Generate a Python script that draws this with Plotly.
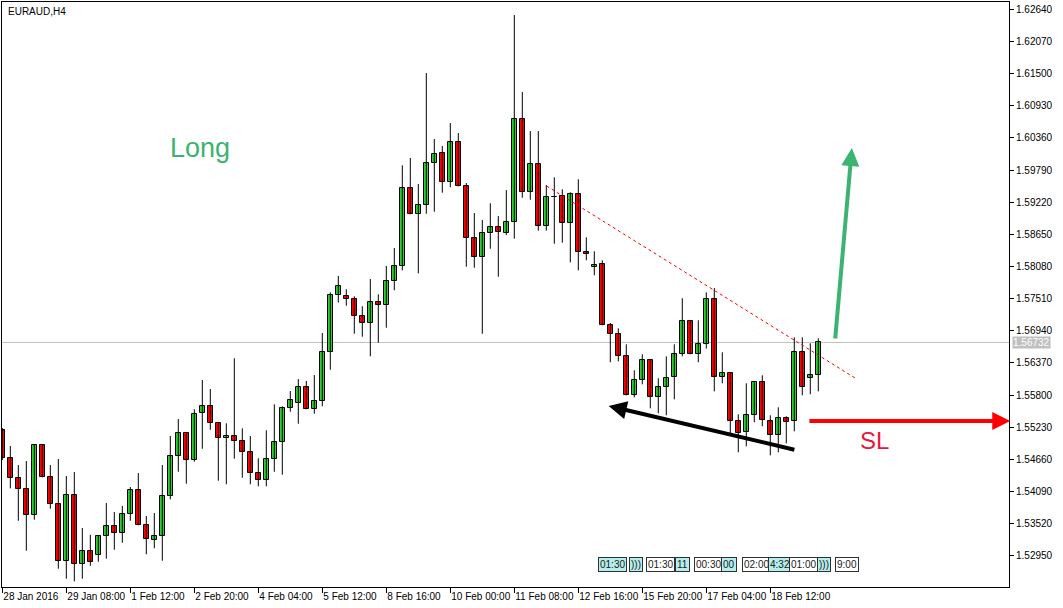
import plotly.graph_objects as go

SYMBOL = "EURAUD,H4"

OPEN = [1.55174, 1.54677, 1.54322, 1.54127, 1.53666, 1.54908, 1.54340, 1.53861, 1.52850, 1.54021,
        1.52797, 1.53028, 1.52957, 1.53294, 1.53471, 1.53347, 1.53684, 1.54110, 1.53489, 1.53223,
        1.53294, 1.54003, 1.54713, 1.55120, 1.54642, 1.55475, 1.55599, 1.55298, 1.55032, 1.55067,
        1.54979, 1.54784, 1.54411, 1.54287, 1.54659, 1.54961, 1.55564, 1.55653, 1.55936, 1.55546,
        1.55688, 1.56557, 1.57568, 1.57550, 1.57497, 1.57195, 1.57071, 1.57444, 1.57391, 1.57816,
        1.58082, 1.59466, 1.59004, 1.59164, 1.59909, 1.60086, 1.59572, 1.60281, 1.59501, 1.58579,
        1.58242, 1.58667, 1.58774, 1.58667, 1.58863, 1.60689, 1.59405, 1.59891, 1.58792, 1.59315,
        1.59324, 1.58845, 1.59359, 1.58331, 1.58064, 1.58118, 1.57036, 1.56876, 1.56486, 1.55794,
        1.56060, 1.56415, 1.55759, 1.55936, 1.56114, 1.56522, 1.57107, 1.56522, 1.56699, 1.57497,
        1.56114, 1.56185, 1.55333, 1.55138, 1.55440, 1.56025, 1.55333, 1.55085, 1.55386, 1.55333,
        1.56557, 1.56096, 1.56149]

HIGH = [1.55214, 1.54895, 1.54558, 1.54629, 1.54931, 1.54931, 1.54558, 1.54665, 1.54363, 1.54434,
        1.53441, 1.53322, 1.53304, 1.53884, 1.53725, 1.53831, 1.54168, 1.54416, 1.53654, 1.53707,
        1.54558, 1.55073, 1.55374, 1.55120, 1.55546, 1.56066, 1.55906, 1.55298, 1.55298, 1.56451,
        1.55209, 1.55073, 1.54677, 1.55174, 1.55635, 1.55599, 1.55871, 1.56083, 1.56048, 1.56154,
        1.56899, 1.57621, 1.57910, 1.57674, 1.57550, 1.57373, 1.57857, 1.57586, 1.58088, 1.58407,
        1.59873, 1.60003, 1.59542, 1.61510, 1.60340, 1.60216, 1.60624, 1.60446, 1.59560, 1.59027,
        1.58903, 1.59200, 1.58974, 1.59435, 1.62539, 1.61173, 1.60482, 1.60482, 1.59524, 1.59661,
        1.59448, 1.59395, 1.59625, 1.58597, 1.58348, 1.58189, 1.57077, 1.56983, 1.56699, 1.56238,
        1.56522, 1.56433, 1.56096, 1.56486, 1.56699, 1.57515, 1.57125, 1.57125, 1.57621, 1.57697,
        1.56557, 1.56202, 1.55457, 1.56007, 1.56025, 1.56149, 1.55440, 1.55582, 1.55422, 1.56823,
        1.56823, 1.56717, 1.56805]

LOW = [1.54647, 1.54145, 1.53570, 1.53038, 1.53588, 1.54340, 1.53783, 1.52719, 1.52542, 1.52496,
       1.52542, 1.52772, 1.52843, 1.52897, 1.53056, 1.53180, 1.53570, 1.53489, 1.52975, 1.53081,
       1.52861, 1.53950, 1.54439, 1.54227, 1.54617, 1.54847, 1.55184, 1.54280, 1.54216, 1.54670,
       1.54333, 1.54216, 1.54181, 1.54181, 1.54439, 1.54386, 1.55504, 1.55291, 1.55546, 1.55468,
       1.55599, 1.56248, 1.57440, 1.57383, 1.56887, 1.56834, 1.56486, 1.56727, 1.56993, 1.57657,
       1.58011, 1.59004, 1.57958, 1.59015, 1.59051, 1.59388, 1.59483, 1.59501, 1.58075, 1.58057,
       1.56887, 1.58394, 1.57898, 1.58637, 1.58572, 1.59299, 1.59263, 1.58714, 1.58714, 1.58483,
       1.58501, 1.58153, 1.58011, 1.58189, 1.57923, 1.57036, 1.56380, 1.56397, 1.55794, 1.55759,
       1.55989, 1.55564, 1.55475, 1.55440, 1.55723, 1.56486, 1.56522, 1.56380, 1.56624, 1.55865,
       1.56007, 1.55120, 1.54784, 1.54890, 1.55316, 1.55245, 1.54730, 1.54784, 1.54943, 1.55156,
       1.55794, 1.55812, 1.55865]

CLOSE = [1.54677, 1.54322, 1.54127, 1.53666, 1.54908, 1.54340, 1.53861, 1.52850, 1.54021, 1.52797,
         1.53028, 1.52833, 1.53294, 1.53471, 1.53347, 1.53684, 1.54110, 1.53489, 1.53241, 1.53294,
         1.54003, 1.54713, 1.55120, 1.54642, 1.55457, 1.55599, 1.55298, 1.55032, 1.55067, 1.54979,
         1.54784, 1.54411, 1.54287, 1.54659, 1.54961, 1.55564, 1.55706, 1.55936, 1.55546, 1.55688,
         1.56557, 1.57568, 1.57728, 1.57497, 1.57195, 1.57071, 1.57444, 1.57391, 1.57816, 1.58082,
         1.59466, 1.59004, 1.59164, 1.59909, 1.60069, 1.59572, 1.60281, 1.59501, 1.58579, 1.58242,
         1.58667, 1.58774, 1.58685, 1.58863, 1.60689, 1.59405, 1.59891, 1.58792, 1.59306, 1.59315,
         1.58845, 1.59359, 1.58331, 1.58295, 1.58100, 1.57036, 1.56876, 1.56486, 1.55794, 1.56060,
         1.56415, 1.55759, 1.55936, 1.56096, 1.56522, 1.57107, 1.56522, 1.56699, 1.57497, 1.56114,
         1.56185, 1.55333, 1.55120, 1.55440, 1.56025, 1.55351, 1.55085, 1.55386, 1.55316, 1.56557,
         1.55936, 1.56149, 1.56732]

TICK_BARS = [0, 8, 16, 24, 32, 40, 48, 56, 64, 72, 80, 88, 96]
TICK_LABELS = ["28 Jan 2016", "29 Jan 08:00", "1 Feb 12:00", "2 Feb 20:00", "4 Feb 04:00",
               "5 Feb 12:00", "8 Feb 16:00", "10 Feb 00:00", "11 Feb 08:00", "12 Feb 16:00",
               "15 Feb 20:00", "17 Feb 04:00", "18 Feb 12:00"]
PRICE_TICKS = [1.52950, 1.53520, 1.54090, 1.54660, 1.55230, 1.55800, 1.56370, 1.56940,
               1.57510, 1.58080, 1.58650, 1.59220, 1.59790, 1.60360, 1.60930, 1.61500,
               1.62070, 1.62640]

# chart drawings (bar index, price)
TREND_START = (68.05, 1.59506)
TREND_END = (106.6, 1.56101)
LONG_ARROW = ((104.1, 1.56775), (106.2, 1.60180))
SUPPORT_ARROW = ((99.2, 1.54824), (75.8, 1.55605))
SL_ARROW = ((100.7, 1.55339), (126.0, 1.55339))
LONG_LABEL = (24.7, 1.60180)
SL_LABEL = (109.0, 1.55002)

EVENT_TEXT = ["01:30", ")))", "01:30", "11", "00:30", "00", "02:00", "4:32", "01:00", ")))", "9:00"]
EVENT_BAR = [76.3, 79.2, 82.3, 85.0, 88.3, 90.8, 94.3, 97.2, 100.2, 102.7, 105.6]
EVENT_FILL = ["#B4EEEE", "#B4EEEE", "#FFFFFF", "#B4EEEE", "#FFFFFF", "#B4EEEE",
              "#FFFFFF", "#B4EEEE", "#FFFFFF", "#B4EEEE", "#FFFFFF"]

GREEN = "#32CD32"
RED = "#FF0000"
FONT = "Liberation Sans"

n = len(CLOSE)
idx = list(range(n))

wx, wy = [], []
for i in idx:
    wx += [i, i, None]
    wy += [LOW[i], HIGH[i], None]

base = [min(o, c) for o, c in zip(OPEN, CLOSE)]
height = [max(abs(c - o), 0.00002) for o, c in zip(OPEN, CLOSE)]
colors = [GREEN if c >= o else RED for o, c in zip(OPEN, CLOSE)]

fig = go.Figure()
fig.add_trace(go.Scatter(x=wx, y=wy, mode="lines", line=dict(color="black", width=1),
                         hoverinfo="skip", showlegend=False))
fig.add_trace(go.Bar(x=idx, y=height, base=base, width=0.6,
                     marker=dict(color=colors, line=dict(color="black", width=1)),
                     showlegend=False))

# current price line
fig.add_shape(type="line", xref="paper", x0=0, x1=1, yref="y", y0=CLOSE[-1], y1=CLOSE[-1],
              line=dict(color="#C0C0C0", width=1), layer="below")
# dotted resistance trendline
fig.add_shape(type="line", xref="x", yref="y", x0=TREND_START[0], y0=TREND_START[1],
              x1=TREND_END[0], y1=TREND_END[1], line=dict(color="red", width=1, dash="dot"))

ann = []
ann.append(dict(xref="paper", yref="paper", x=0.004, y=0.997, xanchor="left", yanchor="top",
                text=SYMBOL, showarrow=False, font=dict(family=FONT, size=10, color="black")))
ann.append(dict(xref="paper", yref="y", x=1.0, xshift=3, y=CLOSE[-1], xanchor="left",
                yanchor="middle", text=f"{CLOSE[-1]:.5f}", showarrow=False, bgcolor="#C0C0C0",
                borderpad=0, font=dict(family=FONT, size=10, color="white")))
ann.append(dict(x=LONG_LABEL[0], y=LONG_LABEL[1], text="Long", showarrow=False,
                font=dict(family=FONT, size=27, color="#3CB371")))
ann.append(dict(x=SL_LABEL[0], y=SL_LABEL[1], text="SL", showarrow=False,
                font=dict(family=FONT, size=24, color="#E8173A")))
for (tail, head), col in [(LONG_ARROW, "#3CB371"), (SUPPORT_ARROW, "black"), (SL_ARROW, "red")]:
    ann.append(dict(x=head[0], y=head[1], ax=tail[0], ay=tail[1], axref="x", ayref="y",
                    xref="x", yref="y", showarrow=True, arrowhead=2, arrowsize=0.9,
                    arrowwidth=4, arrowcolor=col, text=""))
for t, b, f in zip(EVENT_TEXT, EVENT_BAR, EVENT_FILL):
    ann.append(dict(xref="x", yref="paper", x=b, y=0.025, text=t, showarrow=False,
                    bgcolor=f, bordercolor="#303030", borderwidth=1, borderpad=1,
                    font=dict(family=FONT, size=10, color="#202020")))

fig.update_layout(
    width=1063, height=608,
    margin=dict(l=2, r=54, t=2, b=21),
    paper_bgcolor="white", plot_bgcolor="white",
    showlegend=False, bargap=0,
    annotations=ann,
    xaxis=dict(range=[-0.04, 125.84], tickvals=TICK_BARS, ticktext=TICK_LABELS,
               tickangle=0, ticks="outside", ticklen=5, tickcolor="black",
               ticklabelposition="outside right",
               showline=True, linecolor="black", linewidth=1, mirror=True, showgrid=False,
               zeroline=False, tickfont=dict(family=FONT, size=10, color="black")),
    yaxis=dict(range=[1.52395, 1.62770], side="right", tickvals=PRICE_TICKS,
               ticktext=[f"{v:.5f}" for v in PRICE_TICKS], ticks="outside", ticklen=4,
               tickcolor="black", showline=True, linecolor="black", linewidth=1, mirror=True,
               showgrid=False, zeroline=False,
               tickfont=dict(family=FONT, size=10, color="black")),
)

fig.write_html("out.html", config={"displayModeBar": False},
               post_script="document.body.style.margin='0';")
